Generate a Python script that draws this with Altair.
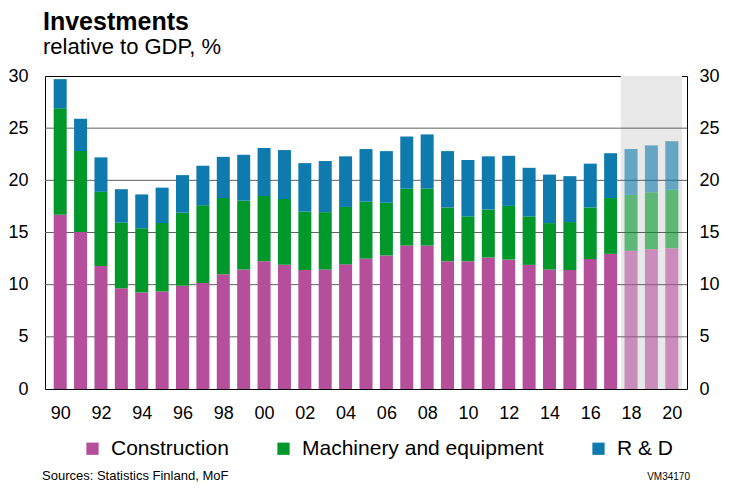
import altair as alt
import pandas as pd

years = list(range(1990, 2021))
construction = [16.7, 15.05, 11.8, 9.65, 9.25, 9.35, 9.9, 10.15, 11.0, 11.45,
                12.25, 11.9, 11.4, 11.45, 11.95, 12.5, 12.8, 13.75, 13.75, 12.25,
                12.25, 12.6, 12.4, 11.9, 11.45, 11.4, 12.45, 12.95, 13.25, 13.4, 13.5]
machinery = [10.2, 7.75, 7.1, 6.3, 6.15, 6.55, 7.0, 7.45, 7.3, 6.6,
             6.25, 6.3, 5.6, 5.5, 5.5, 5.45, 5.05, 5.45, 5.45, 5.15,
             4.3, 4.6, 5.15, 4.65, 4.45, 4.6, 4.95, 5.35, 5.35, 5.45, 5.6]
rd = [2.8, 3.1, 3.3, 3.2, 3.25, 3.4, 3.6, 3.8, 3.95, 4.4,
      4.6, 4.7, 4.65, 4.9, 4.85, 5.05, 4.95, 5.0, 5.2, 5.4,
      5.4, 5.1, 4.8, 4.65, 4.65, 4.4, 4.2, 4.3, 4.4, 4.5, 4.65]
series = ["Construction", "Machinery and equipment", "R & D"]
colors = ["#b54e9b", "#00982b", "#0f7aae"]
forecast_start = 2018
x_labels = list(range(1990, 2021, 2))
y_ticks = [0, 5, 10, 15, 20, 25, 30]
grid_values = [5, 10, 15, 20, 25]
source_text = ["Sources: Statistics Finland, MoF"]
code_text = ["VM34170"]

FONT = "Liberation Sans"
W, H = 642, 313

rows = []
for i, yr in enumerate(years):
    for k, (name, vals) in enumerate(zip(series, [construction, machinery, rd])):
        rows.append({"year": yr, "series": name, "value": vals[i], "order": k})
df = pd.DataFrame(rows)

shade = pd.DataFrame({"x0": [forecast_start - 0.5], "x1": [years[-1] + 0.5],
                      "y0": [0], "y1": [30]})
grid_df = pd.DataFrame({"v": grid_values})

xscale = alt.Scale(domain=[years[0] - 0.5, years[-1] + 0.5], nice=False, zero=False)
yscale = alt.Scale(domain=[0, 30], nice=False)

bg = alt.Chart(shade).mark_rect(color="#e8e8e8").encode(
    x=alt.X("x0:Q", scale=xscale, axis=None),
    x2="x1:Q",
    y=alt.Y("y0:Q", scale=yscale, axis=None),
    y2="y1:Q",
)

grid = alt.Chart(grid_df).mark_rule(color="#606060", strokeWidth=1).encode(
    y=alt.Y("v:Q", scale=yscale,
            axis=alt.Axis(orient="right", values=y_ticks, grid=False, ticks=False,
                          domain=False, labelPadding=12, title=None)),
)

bars = alt.Chart(df).mark_bar(size=13).encode(
    x=alt.X("year:Q", scale=xscale,
            axis=alt.Axis(values=x_labels, labelExpr="substring(toString(datum.value), 2, 4)",
                          grid=False, ticks=False, domain=False, labelPadding=15,
                          title=None, labelFlush=False)),
    y=alt.Y("value:Q", stack="zero", scale=yscale,
            axis=alt.Axis(orient="left", values=y_ticks, grid=False, ticks=False,
                          domain=False, labelPadding=17, title=None)),
    color=alt.Color("series:N", scale=alt.Scale(domain=series, range=colors),
                    legend=alt.Legend(orient="none", legendX=37, legendY=362,
                                      direction="horizontal", title=None,
                                      symbolType="square", symbolSize=150,
                                      symbolStrokeWidth=0, symbolOpacity=1,
                                      labelFontSize=21, labelFont=FONT,
                                      labelColor="#000000", columnPadding=44,
                                      labelOffset=8, labelLimit=400)),
    order=alt.Order("order:Q"),
    opacity=alt.condition(alt.datum.year >= forecast_start, alt.value(0.6), alt.value(1.0)),
)

src = alt.Chart(pd.DataFrame({"t": source_text})).mark_text(
    align="left", baseline="alphabetic", fontSize=13, font=FONT, color="#000000"
).encode(text="t:N", x=alt.value(-3), y=alt.value(404))

code = alt.Chart(pd.DataFrame({"t": code_text})).mark_text(
    align="right", baseline="alphabetic", fontSize=10, font=FONT, color="#000000"
).encode(text="t:N", x=alt.value(W + 3), y=alt.value(404))

chart = alt.layer(bg, grid, bars, src, code).resolve_axis(
    x="independent", y="independent"
).properties(
    width=W, height=H,
    title=alt.TitleParams("Investments", subtitle=["relative to GDP, %"], anchor="start",
                          frame="group",
                          fontSize=25, font=FONT, fontWeight="bold", color="#000000",
                          subtitleFontSize=22, subtitleFont=FONT, subtitleColor="#000000",
                          subtitlePadding=2, offset=9, dx=-2),
    autosize=alt.AutoSizeParams(type="none"),
    padding={"left": 37, "top": 68, "right": 34, "bottom": 93},
).configure_view(
    stroke="#000000", strokeWidth=1
).configure_axis(
    labelFont=FONT, labelFontSize=18, labelColor="#000000"
)

chart.save("out.html", embed_options={"renderer": "svg", "actions": False})
